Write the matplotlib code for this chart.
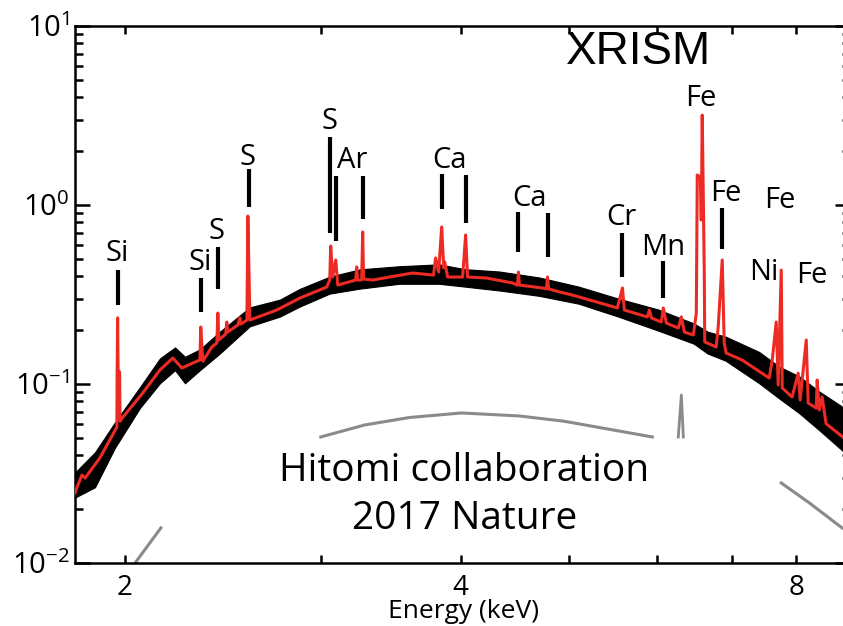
import matplotlib
matplotlib.use("Agg")
import matplotlib.pyplot as plt
from matplotlib.ticker import FixedLocator, NullFormatter

plt.rcParams['font.family'] = ['Open Sans', 'DejaVu Sans']

# red model: energy (keV) and flux (spikes = emission lines)
model_E = [1.804, 1.812, 1.830, 1.842, 1.899, 1.967,
           1.968, 1.970, 1.972, 1.978, 1.980,
           1.992, 2.075, 2.150, 2.208, 2.250, 2.301, 2.335, 2.339, 2.349,
           2.393, 2.418, 2.423, 2.428, 2.463, 2.468, 2.473, 2.525, 2.536, 2.541,
           2.573, 2.578, 2.589, 2.737, 2.870, 3.034, 3.053, 3.059, 3.071, 3.091,
           3.104, 3.221, 3.228, 3.234, 3.261, 3.268, 3.274, 3.336, 3.455, 3.623,
           3.783, 3.799, 3.823, 3.847, 3.863, 3.871, 3.895, 4.017, 4.042, 4.058,
           4.219, 4.453, 4.499, 4.508, 4.517, 4.737, 4.776, 4.787, 4.797, 4.906,
           5.040, 5.530, 5.588, 5.610, 5.883, 5.908, 5.933, 6.055, 6.080, 6.118,
           6.272, 6.311, 6.350, 6.469, 6.509, 6.522, 6.563, 6.576, 6.589, 6.617,
           6.623, 6.782, 6.810, 6.867, 6.895, 6.923, 7.157, 7.567, 7.614, 7.677,
           7.708, 7.757, 7.773, 7.934, 8.033, 8.066, 8.168, 8.201, 8.338, 8.355,
           8.390, 8.440, 8.510, 8.940]
model_F = [0.0246, 0.0266, 0.0310, 0.0298, 0.0386, 0.0575,
           0.117, 0.234, 0.117, 0.117, 0.062,
           0.0654, 0.0891, 0.1198, 0.1397, 0.1228, 0.1310, 0.1362, 0.2081, 0.1340,
           0.1610, 0.1695, 0.2492, 0.1762, 0.1903, 0.2220, 0.1953, 0.2136, 0.2338, 0.2160,
           0.2278, 0.868, 0.2278, 0.259, 0.302, 0.348, 0.381, 0.590, 0.396, 0.493,
           0.357, 0.381, 0.451, 0.381, 0.381, 0.707, 0.386, 0.381, 0.396, 0.417,
           0.406, 0.506, 0.422, 0.754, 0.445, 0.480, 0.396, 0.396, 0.680, 0.396,
           0.391, 0.367, 0.357, 0.422, 0.357, 0.344, 0.340, 0.396, 0.340, 0.327,
           0.314, 0.266, 0.344, 0.259, 0.237, 0.259, 0.234, 0.222, 0.266, 0.219,
           0.2055, 0.237, 0.195, 0.188, 0.249, 1.471, 1.434, 0.824, 3.18, 0.417,
           0.172, 0.161, 0.208, 0.493, 0.1695, 0.149, 0.136, 0.108, 0.136, 0.222,
           0.0987, 0.433, 0.095, 0.0846, 0.115, 0.0814, 0.176, 0.0783, 0.0734, 0.1053,
           0.0716, 0.0846, 0.0600, 0.0470]

# black data: upper / lower envelope of the noisy spectrum
data_E = [1.804, 1.880, 1.959, 2.063, 2.150, 2.218, 2.264, 2.335, 2.433, 2.588,
          2.754, 2.870, 3.053, 3.248, 3.525, 3.826, 4.037, 4.334, 4.703, 5.105,
          5.540, 6.013, 6.475, 6.663, 6.915, 7.411, 7.725, 8.056, 8.396, 8.940]
data_hi = [0.0320, 0.0415, 0.0610, 0.0960, 0.1390, 0.160, 0.1420, 0.1560, 0.1960, 0.268,
           0.296, 0.340, 0.398, 0.437, 0.455, 0.466, 0.438, 0.425, 0.394, 0.350,
           0.300, 0.261, 0.218, 0.1960, 0.184, 0.151, 0.1250, 0.1100, 0.0905, 0.0700]
data_lo = [0.0232, 0.0265, 0.0440, 0.0735, 0.1010, 0.1195, 0.1010, 0.1195, 0.1480, 0.2100,
           0.2380, 0.271, 0.320, 0.341, 0.363, 0.363, 0.350, 0.333, 0.311, 0.281,
           0.2380, 0.1990, 0.168, 0.1480, 0.1350, 0.1010, 0.0830, 0.0685, 0.0550, 0.0390]

# grey Hitomi curves
arc_E = [2.997, 3.280, 3.600, 4.008, 4.514, 4.950, 5.943]
arc_F = [0.0506, 0.0590, 0.0650, 0.0689, 0.0663, 0.0620, 0.0506]
spike_E = [6.271, 6.311, 6.337]
spike_F = [0.0506, 0.0868, 0.0506]
low_left_E = [2.030, 2.154]
low_left_F = [0.0095, 0.0157]
low_right_E = [7.757, 8.226, 8.796]
low_right_F = [0.0280, 0.0216, 0.0157]

# line identifications
labels = ['Si', 'Si', 'S', 'S', 'S', 'Ar', 'Ca', 'Ca', 'Cr', 'Mn', 'Fe', 'Fe', 'Fe', 'Ni', 'Fe']
label_E = [1.967, 2.335, 2.418, 2.578, 3.053, 3.195, 3.906, 4.610, 5.578, 6.080,
           6.575, 6.915, 7.741, 7.485, 8.265]
label_F = [0.539, 0.480, 0.707, 1.854, 2.91, 1.784, 1.784, 1.094, 0.857, 0.582,
           3.96, 1.167, 1.066, 0.422, 0.406]
bar_E = [1.971, 2.339, 2.423, 2.583, 3.053, 3.091, 3.268, 3.847, 4.042, 4.508,
         4.787, 5.588, 6.080, 6.868]
bar_top = [0.433, 0.391, 0.582, 1.589, 2.40, 1.452, 1.452, 1.490, 1.471, 0.914,
           0.902, 0.698, 0.487, 0.962]
bar_bot = [0.276, 0.252, 0.340, 0.975, 0.698, 0.629, 0.835, 0.950, 0.793, 0.546,
           0.512, 0.396, 0.302, 0.568]

fig = plt.figure(figsize=(8.43, 6.26), dpi=100)
ax = fig.add_axes([0.08897, 0.10064, 0.9193, 0.8578])
ax.set_xscale('log')
ax.set_yscale('log')

grey = '#8a8a8a'
ax.plot(arc_E, arc_F, color=grey, lw=2.2, zorder=1)
ax.plot(spike_E, spike_F, color=grey, lw=2.0, zorder=1)
ax.plot(low_left_E, low_left_F, color=grey, lw=2.2, zorder=1)
ax.plot(low_right_E, low_right_F, color=grey, lw=2.2, zorder=1)

ax.fill_between(data_E, data_lo, data_hi, color='black', lw=0.8, zorder=2)
ax.plot(model_E, model_F, color='#ee2a24', lw=2.2, zorder=3)

ax.vlines(bar_E, bar_bot, bar_top, colors='black', lw=3, zorder=4)
for t, x, y in zip(labels, label_E, label_F):
    ax.text(x, y, t, fontsize=21, ha='center', va='center', zorder=5)

ax.text(0.727, 0.9516, 'XRISM', transform=ax.transAxes, fontsize=33,
        family='Liberation Sans', ha='center', va='center')
ax.text(0.5026, 0.171, 'Hitomi collaboration', transform=ax.transAxes,
        fontsize=28, ha='center', va='center')
ax.text(0.5026, 0.082, '2017 Nature', transform=ax.transAxes,
        fontsize=28, ha='center', va='center')
fig.text(463 / 843, 1 - 612 / 626, 'Energy (keV)', fontsize=19,
         ha='center', va='center')

ax.set_xlim(1.804, 8.94)
ax.set_ylim(0.01, 10)

ax.xaxis.set_major_locator(FixedLocator([2, 4, 8]))
ax.xaxis.set_minor_locator(FixedLocator([3, 5, 6, 7]))
ax.set_xticklabels(['2', '4', '8'])
ax.xaxis.set_minor_formatter(NullFormatter())
ax.yaxis.set_major_locator(FixedLocator([0.01, 0.1, 1, 10]))
ax.yaxis.set_minor_locator(FixedLocator([m * d for d in [0.01, 0.1, 1] for m in range(2, 10)]))
ax.set_yticklabels([r'$\mathregular{10^{-2}}$', r'$\mathregular{10^{-1}}$',
                    r'$\mathregular{10^{0}}$', r'$\mathregular{10^{1}}$'])
ax.yaxis.set_minor_formatter(NullFormatter())

ax.tick_params(which='both', direction='in', top=True, right=True, width=1.8)
ax.tick_params(axis='x', which='both', length=6, labelsize=20, pad=8)
ax.tick_params(axis='y', which='major', length=11, labelsize=21, pad=4)
ax.tick_params(axis='y', which='minor', length=5.5)
for s in ax.spines.values():
    s.set_linewidth(1.8)

fig.savefig('out.png', dpi=100)
